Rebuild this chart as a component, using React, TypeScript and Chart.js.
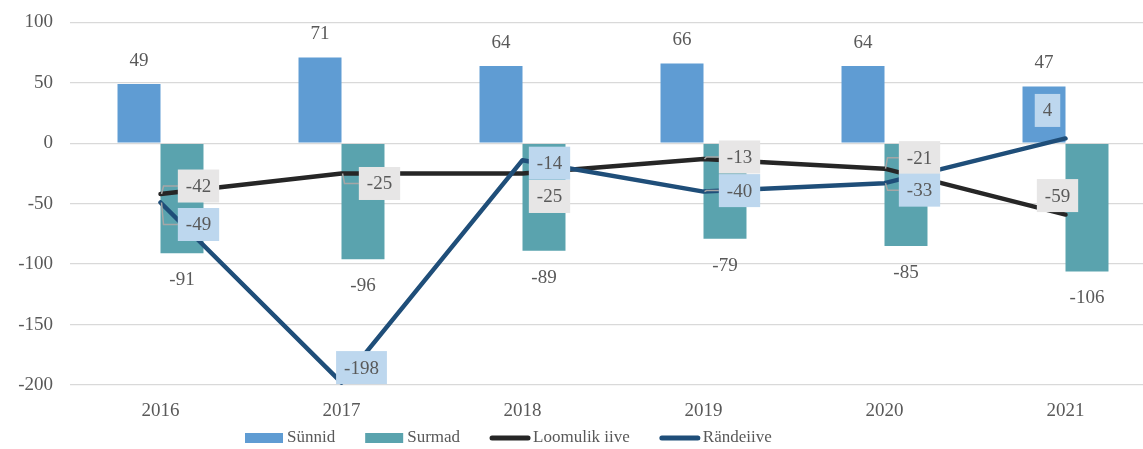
import React, { useEffect, useRef } from "react";
import { Chart, registerables } from "chart.js";

Chart.register(...registerables);

const categories = ["2016", "2017", "2018", "2019", "2020", "2021"];
const births = [49, 71, 64, 66, 64, 47];
const deaths = [-91, -96, -89, -79, -85, -106];
const naturalIncrease = [-42, -25, -25, -13, -21, -59];
const netMigration = [-49, -198, -14, -40, -33, 4];
const seriesNames = ["Sünnid", "Surmad", "Loomulik iive", "Rändeiive"];
const yMin = -200;
const yMax = 100;
const yStep = 50;

// label box offsets (px) from each line point to the label centre
const naturalLabelOffsets = [[38, -8], [38, 10], [27, 23], [36, -2], [35, -11], [-8, -19]];
const migrationLabelOffsets = [[38, 22], [20, -15], [27, 3], [36, -1], [35, 7], [-18, -28]];

const FONT_FAMILY = "'Liberation Serif', serif";
const TEXT = "#595959";
const C_BIRTH = "#5F9CD3";
const C_DEATH = "#5AA3AE";
const C_NAT = "#262626";
const C_MIG = "#1F4E79";
const BOX_NAT = "#E7E6E6";
const BOX_MIG = "#BDD7EE";
const SHIFT = 6;

const labelPlugin = {
  id: "customLabels",
  afterDatasetsDraw(chart: any) {
    const ctx = chart.ctx;
    ctx.save();
    ctx.font = `19px ${FONT_FAMILY}`;
    ctx.textAlign = "center";
    ctx.textBaseline = "middle";
    [0, 1].forEach((di) => {
      const meta = chart.getDatasetMeta(di);
      meta.data.forEach((el: any, i: number) => {
        const v = chart.data.datasets[di].data[i] as number;
        const y = v >= 0 ? el.y - 23 : el.y + 27;
        ctx.fillStyle = TEXT;
        ctx.fillText(String(v), el.x, y);
      });
    });
    const drawBoxes = (di: number, offsets: number[][], bg: string) => {
      const meta = chart.getDatasetMeta(di);
      meta.data.forEach((el: any, i: number) => {
        const v = chart.data.datasets[di].data[i] as number;
        const txt = String(v);
        const cx = el.x + offsets[i][0];
        const cy = el.y + offsets[i][1];
        const w = ctx.measureText(txt).width + 16;
        const h = 33;
        const left = cx - w / 2;
        if (left - el.x > 8) {
          ctx.strokeStyle = "#A6A6A6";
          ctx.lineWidth = 1.5;
          ctx.beginPath();
          ctx.moveTo(el.x + 1, el.y);
          ctx.lineTo(el.x + 3, cy);
          ctx.lineTo(left, cy);
          ctx.stroke();
        }
        ctx.fillStyle = bg;
        ctx.fillRect(left, cy - h / 2, w, h);
        ctx.fillStyle = TEXT;
        ctx.fillText(txt, cx, cy + 1);
      });
    };
    drawBoxes(2, naturalLabelOffsets, BOX_NAT);
    drawBoxes(3, migrationLabelOffsets, BOX_MIG);
    ctx.restore();
  },
  afterDraw(chart: any) {
    const ctx = chart.ctx;
    ctx.save();
    ctx.font = `17px ${FONT_FAMILY}`;
    ctx.textBaseline = "middle";
    ctx.textAlign = "left";
    const y = 438 + SHIFT;
    let x = 245;
    const colors = [C_BIRTH, C_DEATH, C_NAT, C_MIG];
    seriesNames.forEach((name, i) => {
      if (i < 2) {
        ctx.fillStyle = colors[i];
        ctx.fillRect(x, y - 5, 38, 10);
        x += 42;
      } else {
        ctx.strokeStyle = colors[i];
        ctx.lineWidth = 5;
        ctx.lineCap = "round";
        ctx.beginPath();
        ctx.moveTo(x + 2, y);
        ctx.lineTo(x + 38, y);
        ctx.stroke();
        x += 43;
      }
      ctx.fillStyle = TEXT;
      ctx.fillText(name, x, y);
      x += ctx.measureText(name).width + 30;
    });
    ctx.restore();
  },
};

export default function App() {
  const ref = useRef<HTMLCanvasElement>(null);
  useEffect(() => {
    if (!ref.current) return;
    const chart = new Chart(ref.current, {
      type: "bar",
      data: {
        labels: categories,
        datasets: [
          { type: "bar", label: seriesNames[0], data: births, backgroundColor: C_BIRTH, order: 2 },
          { type: "bar", label: seriesNames[1], data: deaths, backgroundColor: C_DEATH, order: 2 },
          {
            type: "line", label: seriesNames[2], data: naturalIncrease, borderColor: C_NAT,
            backgroundColor: C_NAT, borderWidth: 4.5, pointRadius: 0, tension: 0,
            borderCapStyle: "round", borderJoinStyle: "round", order: 1,
          },
          {
            type: "line", label: seriesNames[3], data: netMigration, borderColor: C_MIG,
            backgroundColor: C_MIG, borderWidth: 4.5, pointRadius: 0, tension: 0,
            borderCapStyle: "round", borderJoinStyle: "round", order: 0,
          },
        ],
      } as any,
      options: {
        responsive: false,
        animation: false,
        devicePixelRatio: 1,
        layout: { padding: { top: 17, right: 4, left: 0, bottom: 0 } },
        datasets: { bar: { barPercentage: 1, categoryPercentage: 0.475 } },
        plugins: { legend: { display: false }, tooltip: { enabled: false } },
        scales: {
          x: {
            grid: { display: false, drawTicks: false },
            border: { display: false },
            ticks: { color: TEXT, font: { family: FONT_FAMILY, size: 19 }, padding: 15 },
            afterFit: (s: any) => { s.height = 64; },
          },
          y: {
            min: yMin,
            max: yMax,
            grid: { color: "#D9D9D9", lineWidth: 1.3, drawTicks: false },
            border: { display: false },
            ticks: { stepSize: yStep, color: TEXT, font: { family: FONT_FAMILY, size: 19 }, padding: 17 },
            afterFit: (s: any) => { s.width = 70; },
          },
        },
      } as any,
      plugins: [labelPlugin],
    });
    return () => chart.destroy();
  }, []);
  return (
    <div style={{ position: "fixed", left: 0, top: 0, width: 1143, height: 449, overflow: "hidden", background: "#fff" }}>
      <canvas
        ref={ref}
        width={1160}
        height={449 + SHIFT}
        style={{ width: 1160, height: 449 + SHIFT, display: "block", position: "absolute", left: 0, top: -SHIFT }}
      />
    </div>
  );
}
